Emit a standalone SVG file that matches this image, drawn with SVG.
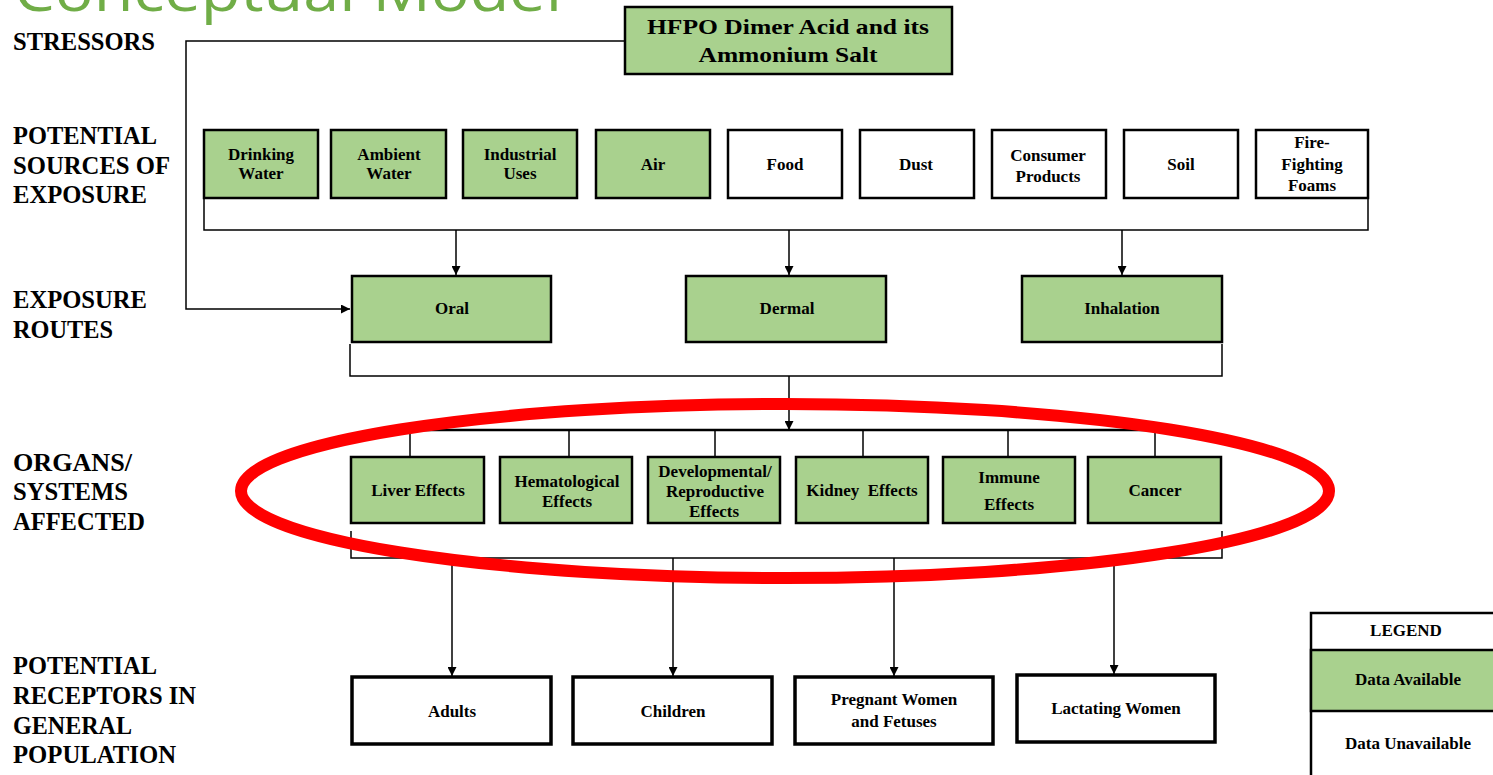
<svg xmlns="http://www.w3.org/2000/svg" width="1493" height="775" viewBox="0 0 1493 775">
<defs>
<marker id="ah" viewBox="0 0 10 10" refX="10" refY="5" markerWidth="9" markerHeight="9" markerUnits="userSpaceOnUse" orient="auto">
<path d="M0,0 L10,5 L0,10 z" fill="#000"/>
</marker>
<style>
.lbl{font-family:"Liberation Serif",serif;font-weight:bold;font-size:25px;fill:#000}
.t{font-family:"Liberation Serif",serif;font-weight:bold;font-size:17px;fill:#000;text-anchor:middle}
.g{fill:#A9D18E;stroke:#000;stroke-width:2.5}
.w{fill:#fff;stroke:#000;stroke-width:2.5}
.r{fill:#fff;stroke:#000;stroke-width:3.5}
.c{fill:none;stroke:#000;stroke-width:1.5}
.title{font-family:"Open Sans","Liberation Sans",sans-serif;font-weight:400;font-size:56px;fill:#70AD47}
</style>
</defs>
<rect width="1493" height="775" fill="#fff"/>
<text class="title" x="14" y="11" textLength="548" lengthAdjust="spacingAndGlyphs">Conceptual Model</text>

<g id="labels">
<text class="lbl" x="13" y="50" textLength="142" lengthAdjust="spacingAndGlyphs">STRESSORS</text>
<text class="lbl" x="13" y="144" textLength="144" lengthAdjust="spacingAndGlyphs">POTENTIAL</text>
<text class="lbl" x="13" y="174" textLength="157" lengthAdjust="spacingAndGlyphs">SOURCES OF</text>
<text class="lbl" x="13" y="203" textLength="134" lengthAdjust="spacingAndGlyphs">EXPOSURE</text>
<text class="lbl" x="13" y="308" textLength="134" lengthAdjust="spacingAndGlyphs">EXPOSURE</text>
<text class="lbl" x="13" y="338" textLength="100" lengthAdjust="spacingAndGlyphs">ROUTES</text>
<text class="lbl" x="13" y="471" textLength="119" lengthAdjust="spacingAndGlyphs">ORGANS/</text>
<text class="lbl" x="13" y="500" textLength="115" lengthAdjust="spacingAndGlyphs">SYSTEMS</text>
<text class="lbl" x="13" y="530" textLength="132" lengthAdjust="spacingAndGlyphs">AFFECTED</text>
<text class="lbl" x="13" y="674" textLength="144" lengthAdjust="spacingAndGlyphs">POTENTIAL</text>
<text class="lbl" x="13" y="704" textLength="183" lengthAdjust="spacingAndGlyphs">RECEPTORS IN</text>
<text class="lbl" x="13" y="734" textLength="119" lengthAdjust="spacingAndGlyphs">GENERAL</text>
<text class="lbl" x="13" y="763" textLength="163" lengthAdjust="spacingAndGlyphs">POPULATION</text>
</g>

<g id="connectors">
<polyline class="c" points="625,41 186,41 186,309 350,309" marker-end="url(#ah)"/>
<polyline class="c" points="204,199 204,230 1368,230 1368,199"/>
<line class="c" x1="456" y1="230" x2="456" y2="275" marker-end="url(#ah)"/>
<line class="c" x1="789" y1="230" x2="789" y2="275" marker-end="url(#ah)"/>
<line class="c" x1="1122" y1="230" x2="1122" y2="275" marker-end="url(#ah)"/>
<polyline class="c" points="350,344 350,376 1222,376 1222,344"/>
<line class="c" x1="789" y1="376" x2="789" y2="430" marker-end="url(#ah)"/>
<line x1="410" y1="430" x2="1156" y2="430" stroke="#000" stroke-width="2.5"/>
<line class="c" x1="410" y1="430" x2="410" y2="456"/>
<line class="c" x1="569" y1="430" x2="569" y2="456"/>
<line class="c" x1="715" y1="430" x2="715" y2="456"/>
<line class="c" x1="863" y1="430" x2="863" y2="456"/>
<line class="c" x1="1008" y1="430" x2="1008" y2="456"/>
<line class="c" x1="1155" y1="430" x2="1155" y2="456"/>
<polyline class="c" points="351,531 351,558 1222,558 1222,531"/>
<line class="c" x1="452" y1="558" x2="452" y2="676" marker-end="url(#ah)"/>
<line class="c" x1="673" y1="558" x2="673" y2="676" marker-end="url(#ah)"/>
<line class="c" x1="894" y1="558" x2="894" y2="676" marker-end="url(#ah)"/>
<line class="c" x1="1114" y1="558" x2="1114" y2="674" marker-end="url(#ah)"/>
</g>

<g id="stressor"><rect class="g" x="625" y="7" width="327" height="67"/>
<text class="t" x="788" y="34" style="font-size:21px" textLength="282" lengthAdjust="spacingAndGlyphs">HFPO Dimer Acid and its</text>
<text class="t" x="788" y="62" style="font-size:21px" textLength="179" lengthAdjust="spacingAndGlyphs">Ammonium Salt</text></g>

<g id="src-drinking"><rect class="g" x="204" y="130" width="114" height="68"/>
<text class="t" x="261" y="160">Drinking</text><text class="t" x="261" y="179">Water</text></g>
<g id="src-ambient"><rect class="g" x="331" y="130" width="115" height="68"/>
<text class="t" x="389" y="160">Ambient</text><text class="t" x="389" y="179">Water</text></g>
<g id="src-industrial"><rect class="g" x="463" y="130" width="114" height="68"/>
<text class="t" x="520" y="160">Industrial</text><text class="t" x="520" y="179">Uses</text></g>
<g id="src-air"><rect class="g" x="596" y="130" width="114" height="68"/>
<text class="t" x="653" y="170">Air</text></g>
<g id="src-food"><rect class="w" x="728" y="130" width="114" height="68"/>
<text class="t" x="785" y="170">Food</text></g>
<g id="src-dust"><rect class="w" x="860" y="130" width="114" height="68"/>
<text class="t" x="916" y="170">Dust</text></g>
<g id="src-consumer"><rect class="w" x="992" y="130" width="114" height="68"/>
<text class="t" x="1048" y="161">Consumer</text><text class="t" x="1048" y="182">Products</text></g>
<g id="src-soil"><rect class="w" x="1124" y="130" width="114" height="68"/>
<text class="t" x="1181" y="170">Soil</text></g>
<g id="src-foams"><rect class="w" x="1256" y="130" width="112" height="68"/>
<text class="t" x="1312" y="148">Fire-</text><text class="t" x="1312" y="170">Fighting</text><text class="t" x="1312" y="191">Foams</text></g>

<g id="route-oral"><rect class="g" x="352" y="276" width="199" height="66"/>
<text class="t" x="452" y="314">Oral</text></g>
<g id="route-dermal"><rect class="g" x="686" y="276" width="200" height="66"/>
<text class="t" x="787" y="314">Dermal</text></g>
<g id="route-inhalation"><rect class="g" x="1022" y="276" width="200" height="66"/>
<text class="t" x="1122" y="314">Inhalation</text></g>

<g id="org-liver"><rect class="g" x="351" y="457" width="133" height="66"/>
<text class="t" x="418" y="496">Liver Effects</text></g>
<g id="org-hema"><rect class="g" x="500" y="457" width="132" height="66"/>
<text class="t" x="567" y="487">Hematological</text><text class="t" x="567" y="507">Effects</text></g>
<g id="org-dev"><rect class="g" x="648" y="457" width="132" height="66"/>
<text class="t" x="715" y="477">Developmental/</text><text class="t" x="715" y="497">Reproductive</text><text class="t" x="714" y="517">Effects</text></g>
<g id="org-kidney"><rect class="g" x="796" y="457" width="132" height="66"/>
<text class="t" x="862" y="496" xml:space="preserve">Kidney  Effects</text></g>
<g id="org-immune"><rect class="g" x="943" y="457" width="132" height="66"/>
<text class="t" x="1009" y="483">Immune</text><text class="t" x="1009" y="510">Effects</text></g>
<g id="org-cancer"><rect class="g" x="1088" y="457" width="133" height="66"/>
<text class="t" x="1155" y="496">Cancer</text></g>

<g id="rec-adults"><rect class="r" x="352" y="677" width="199" height="67"/>
<text class="t" x="452" y="717">Adults</text></g>
<g id="rec-children"><rect class="r" x="573" y="677" width="199" height="67"/>
<text class="t" x="673" y="717">Children</text></g>
<g id="rec-pregnant"><rect class="r" x="795" y="677" width="198" height="67"/>
<text class="t" x="894" y="705">Pregnant Women</text><text class="t" x="894" y="727">and Fetuses</text></g>
<g id="rec-lactating"><rect class="r" x="1017" y="675" width="198" height="67"/>
<text class="t" x="1116" y="714">Lactating Women</text></g>

<g id="legend">
<rect x="1311" y="613" width="186" height="165" fill="#fff" stroke="#000" stroke-width="2.5"/>
<rect x="1311" y="650" width="186" height="61" fill="#A9D18E" stroke="#000" stroke-width="2.5"/>
<text class="t" x="1406" y="636">LEGEND</text>
<text class="t" x="1408" y="685">Data Available</text>
<text class="t" x="1408" y="749">Data Unavailable</text>
</g>

<ellipse id="highlight" cx="785" cy="491" rx="544" ry="87" fill="none" stroke="#FF0000" stroke-width="12"/>
</svg>
